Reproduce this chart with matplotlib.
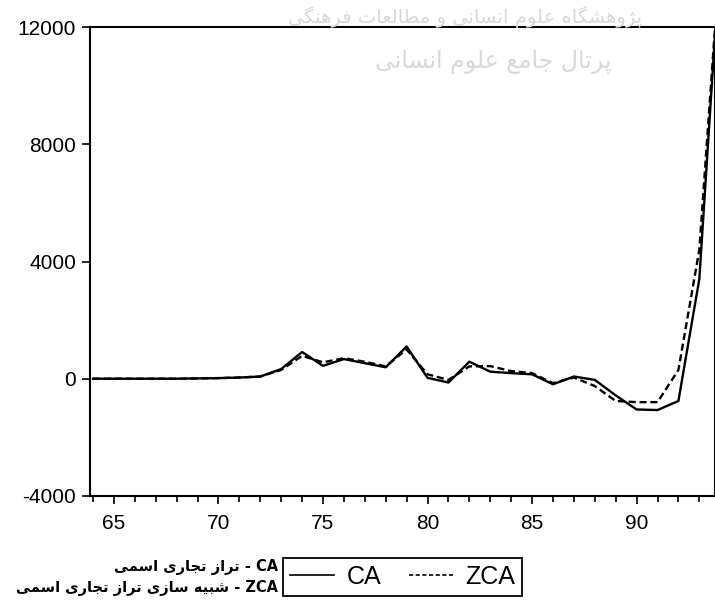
import matplotlib
matplotlib.use('Agg')
import matplotlib.pyplot as plt
from matplotlib.ticker import MultipleLocator
from matplotlib.lines import Line2D

# annual data, years 64..94
years = list(range(64, 95))
ca = [0, 0, 0, 0, 0, 10, 20, 40, 75, 330, 910, 440, 670, 530, 390, 1100,
      30, -130, 580, 240, 190, 150, -190, 75, -40, -570, -1050, -1070, -760,
      3400, 14500]
zca = [0, 0, 0, 0, 0, 10, 20, 40, 75, 300, 780, 560, 700, 580, 420, 1000,
       150, -40, 420, 430, 260, 190, -150, 40, -250, -760, -800, -800, 300,
       4400, 14500]

x_ticks = [65, 70, 75, 80, 85, 90]
y_ticks = [-4000, 0, 4000, 8000, 12000]

note_ca = 'تراز تجاری اسمی'
note_zca = 'شبیه سازی تراز تجاری اسمی'
mark_1 = 'پژوهشگاه علوم انسانی و مطالعات فرهنگی'
mark_2 = 'پرتال جامع علوم انسانی'

# presentation forms: isolated, final, initial, medial
FORMS = {
    'ا': (0xFE8D, 0xFE8E, None, None),
    'ب': (0xFE8F, 0xFE90, 0xFE91, 0xFE92),
    'پ': (0xFB56, 0xFB57, 0xFB58, 0xFB59),
    'ت': (0xFE95, 0xFE96, 0xFE97, 0xFE98),
    'ج': (0xFE9D, 0xFE9E, 0xFE9F, 0xFEA0),
    'ر': (0xFEAD, 0xFEAE, None, None),
    'ز': (0xFEAF, 0xFEB0, None, None),
    'ژ': (0xFB8A, 0xFB8B, None, None),
    'س': (0xFEB1, 0xFEB2, 0xFEB3, 0xFEB4),
    'ش': (0xFEB5, 0xFEB6, 0xFEB7, 0xFEB8),
    'ط': (0xFEC1, 0xFEC2, 0xFEC3, 0xFEC4),
    'ع': (0xFEC9, 0xFECA, 0xFECB, 0xFECC),
    'ف': (0xFED1, 0xFED2, 0xFED3, 0xFED4),
    'گ': (0xFB92, 0xFB93, 0xFB94, 0xFB95),
    'ل': (0xFEDD, 0xFEDE, 0xFEDF, 0xFEE0),
    'م': (0xFEE1, 0xFEE2, 0xFEE3, 0xFEE4),
    'ن': (0xFEE5, 0xFEE6, 0xFEE7, 0xFEE8),
    'ه': (0xFEE9, 0xFEEA, 0xFEEB, 0xFEEC),
    'و': (0xFEED, 0xFEEE, None, None),
    'ی': (0xFBFC, 0xFBFD, 0xFBFE, 0xFBFF),
}


def rtl(text):
    # join letters and flip to visual order, matplotlib has no shaping
    out = []
    for i, c in enumerate(text):
        if c not in FORMS:
            out.append(c)
            continue
        prev = text[i - 1] if i > 0 else ''
        nxt = text[i + 1] if i + 1 < len(text) else ''
        j_prev = prev in FORMS and FORMS[prev][2] is not None
        j_next = nxt in FORMS and FORMS[c][2] is not None
        iso, fin, ini, med = FORMS[c]
        if j_prev and j_next:
            code = med
        elif j_prev:
            code = fin
        elif j_next:
            code = ini
        else:
            code = iso
        out.append(chr(code))
    return ''.join(out)[::-1]


plt.rcParams['font.family'] = ['Liberation Sans', 'DejaVu Sans']
plt.rcParams['axes.unicode_minus'] = False

fig = plt.figure(figsize=(7.15, 6.04), dpi=100)
ax = fig.add_axes([0.126, 0.179, 0.874, 0.776])

# faint watermark behind the plot
fig.text(0.65, 0.972, rtl(mark_1), ha='center', va='center', fontsize=14,
         color='#d8d8d8', family='DejaVu Sans', zorder=0)
fig.text(0.69, 0.897, rtl(mark_2), ha='center', va='center', fontsize=17,
         color='#d8d8d8', family='DejaVu Sans', zorder=0)
ax.patch.set_alpha(0)

ax.plot(years, ca, color='black', lw=1.7, label='CA')
ax.plot(years, zca, color='black', lw=1.7, ls=(0, (3, 1.6)), label='ZCA')

ax.set_xlim(63.86, 93.75)
ax.set_ylim(-4000, 12000)
ax.set_xticks(x_ticks)
ax.xaxis.set_minor_locator(MultipleLocator(1))
ax.set_yticks(y_ticks)
ax.tick_params(axis='both', direction='out', labelsize=15, width=1.2,
               length=6, pad=4)
ax.tick_params(axis='x', which='minor', direction='out', length=4, width=1.2)
ax.tick_params(axis='x', pad=7)
for s in ax.spines.values():
    s.set_linewidth(1.5)

handles = [Line2D([], [], color='black', lw=1.2),
           Line2D([], [], color='black', lw=1.2, ls=(0, (2.5, 1.5)))]
leg = fig.legend(handles, ['CA', 'ZCA'], loc='lower left',
                 bbox_to_anchor=(0.396, 0.013), ncol=2, fontsize=18,
                 frameon=True, fancybox=False, edgecolor='black',
                 framealpha=1, handlelength=1.76, handletextpad=0.5,
                 columnspacing=1.1, borderpad=0.28, borderaxespad=0)
leg.get_frame().set_linewidth(1.3)

fig.text(0.389, 0.061, rtl(note_ca) + ' - CA', ha='right', va='center',
         fontsize=10.5, family=['DejaVu Sans'], fontweight='bold')
fig.text(0.389, 0.027, rtl(note_zca) + ' - ZCA', ha='right', va='center',
         fontsize=10.5, family=['DejaVu Sans'], fontweight='bold')

fig.savefig('out.png', dpi=100)
